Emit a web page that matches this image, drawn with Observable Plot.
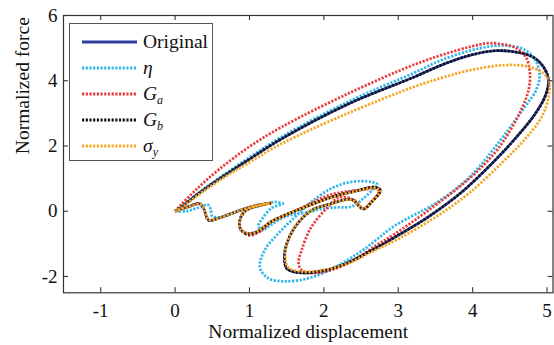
<!DOCTYPE html>
<html><head><meta charset="utf-8">
<script src="https://cdn.jsdelivr.net/npm/d3@7"></script>
<script src="https://cdn.jsdelivr.net/npm/@observablehq/plot@0.6"></script>
<style>
body{margin:0;background:#fff;}
#wrap{position:relative;width:554px;height:345px;font-family:'Liberation Serif';}
#chart svg text{font-family:'Liberation Serif';}
#legend{position:absolute;left:69px;top:23px;width:144px;height:138px;border:1.3px solid #555;box-sizing:border-box;background:#fff;}
.row{position:absolute;left:0;height:26px;}
.row svg{position:absolute;left:11px;top:0;}
.row span{position:absolute;left:73px;top:-12px;font-size:19.5px;line-height:24px;color:#111;white-space:nowrap;font-family:'Liberation Serif';}
.row i{font-style:italic;}
.row sub{font-size:12px;vertical-align:-4px;}
</style></head>
<body><div id="wrap"><div id="chart"></div><div id="legend"></div></div>
<script>
const xTicks = [-1, 0, 1, 2, 3, 4, 5];
const yTicks = [-2, 0, 2, 4, 6];

const origX = [0,0.18,0.33,0.39,0.45,0.6,0.84,1.1,1.29,1.12,0.95,0.87,0.88,0.98,1.12,1.29,1.5,1.74,2.1,2.46,2.68,2.76,2.64,2.53,2.37,2.1,1.83,1.61,1.5,1.47,1.5,1.65,2.0,2.3,2.64,2.95,3.4,3.85,4.3,4.6,4.83,4.97,5.02,4.95,4.8,4.55,4.3,3.98,3.6,3.22,2.32,1.43,1.0,0.6,0.3,0.08,0];
const origY = [0,0.14,0.23,0.05,-0.27,-0.2,0.0,0.18,0.25,0.17,0.02,-0.28,-0.55,-0.68,-0.6,-0.32,-0.1,0.12,0.43,0.64,0.74,0.64,0.28,0.07,0.36,0.23,0.02,-0.49,-1.0,-1.4,-1.75,-1.88,-1.82,-1.6,-1.2,-0.8,-0.18,0.58,1.56,2.3,2.95,3.5,4.0,4.43,4.74,4.89,4.92,4.79,4.5,4.12,3.28,2.22,1.6,1.0,0.52,0.12,0];

const etaX = [0,0.15,0.3,0.44,0.48,0.5,0.62,0.84,1.1,1.34,1.45,1.3,1.18,1.12,1.17,1.3,1.5,1.74,2.0,2.19,2.37,2.55,2.68,2.72,2.64,2.37,2.1,1.83,1.61,1.38,1.2,1.14,1.25,1.47,1.83,2.2,2.55,2.95,3.54,3.98,4.48,4.7,4.85,4.9,4.85,4.7,4.43,4.1,3.6,3.22,2.32,1.43,1.0,0.6,0.3,0.08,0];
const etaY = [0,0.0,0.1,0.2,0.05,-0.15,-0.18,0.0,0.15,0.28,0.23,0.1,-0.2,-0.45,-0.58,-0.4,-0.15,-0.05,0.08,0.12,0.14,0.43,0.72,0.82,0.9,0.9,0.7,0.28,-0.18,-0.7,-1.21,-1.72,-2.05,-2.15,-2.03,-1.65,-1.15,-0.45,0.3,1.1,2.5,3.2,3.7,4.15,4.6,4.95,5.08,5.0,4.65,4.25,3.35,2.28,1.65,1.03,0.53,0.12,0];

const gaX = [0,0.18,0.33,0.39,0.45,0.6,0.84,1.1,1.29,1.12,0.95,0.87,0.89,1.0,1.14,1.3,1.5,1.74,2.05,2.3,2.55,2.7,2.74,2.62,2.53,2.4,2.2,2.05,1.83,1.7,1.66,1.7,1.85,2.1,2.4,2.7,2.95,3.4,3.98,4.3,4.48,4.65,4.75,4.77,4.72,4.6,4.4,4.2,3.98,3.6,3.22,2.32,1.43,1.0,0.6,0.3,0.08,0];
const gaY = [0,0.14,0.23,0.05,-0.27,-0.2,0.0,0.18,0.25,0.17,0.02,-0.28,-0.58,-0.74,-0.62,-0.32,-0.1,0.15,0.48,0.6,0.66,0.7,0.6,0.25,0.07,0.35,0.42,0.12,-0.49,-1.2,-1.6,-1.8,-1.9,-1.8,-1.5,-1.05,-0.7,0.02,1.05,1.8,2.38,3.1,3.7,4.23,4.7,4.98,5.12,5.15,5.05,4.8,4.5,3.6,2.58,1.98,1.3,0.7,0.2,0];

const gbX = [0,0.18,0.33,0.39,0.45,0.6,0.84,1.1,1.29,1.12,0.95,0.87,0.88,0.98,1.12,1.29,1.5,1.74,2.1,2.46,2.68,2.76,2.64,2.53,2.37,2.1,1.83,1.61,1.5,1.47,1.5,1.65,2.0,2.3,2.64,2.95,3.4,3.85,4.3,4.6,4.83,4.97,5.02,4.95,4.8,4.55,4.3,3.98,3.6,3.22,2.32,1.43,1.0,0.6,0.3,0.08,0];
const gbY = [0,0.14,0.23,0.05,-0.27,-0.2,0.0,0.18,0.25,0.17,0.02,-0.28,-0.55,-0.7,-0.62,-0.32,-0.1,0.12,0.43,0.64,0.74,0.64,0.28,0.07,0.36,0.23,0.02,-0.49,-1.0,-1.4,-1.75,-1.88,-1.82,-1.6,-1.2,-0.8,-0.18,0.58,1.56,2.3,2.95,3.5,4.0,4.43,4.74,4.89,4.92,4.79,4.5,4.12,3.28,2.22,1.6,1.0,0.52,0.12,0];

const sigX = [0,0.18,0.33,0.39,0.45,0.6,0.84,1.1,1.29,1.12,0.95,0.87,0.88,0.98,1.12,1.29,1.5,1.74,2.1,2.46,2.68,2.76,2.64,2.53,2.37,2.1,1.83,1.61,1.5,1.48,1.52,1.7,2.0,2.3,2.64,3.0,3.5,3.95,4.4,4.7,4.93,5.02,5.03,4.95,4.75,4.43,3.98,3.6,3.22,2.32,1.43,1.0,0.6,0.3,0.08,0];
const sigY = [0,0.13,0.22,0.05,-0.26,-0.2,0.0,0.18,0.25,0.17,0.02,-0.28,-0.55,-0.68,-0.6,-0.32,-0.1,0.12,0.42,0.63,0.72,0.62,0.28,0.08,0.35,0.22,0.02,-0.49,-1.0,-1.4,-1.72,-1.85,-1.8,-1.62,-1.25,-0.85,-0.18,0.55,1.5,2.2,2.9,3.5,3.95,4.23,4.43,4.48,4.33,4.1,3.82,3.0,2.07,1.5,0.95,0.48,0.1,0];

const series = [
  {key: "Original", label: "Original", xs: origX, ys: origY, color: "#2b3d9c", dash: null, w: 2.6},
  {key: "eta", label: "<i>η</i>", xs: etaX, ys: etaY, color: "#2fb6ea", dash: "2.2,1.5", w: 2.7},
  {key: "Ga", label: "<i>G</i><sub><i>a</i></sub>", xs: gaX, ys: gaY, color: "#ec3a3a", dash: "2.2,1.5", w: 2.7},
  {key: "Gb", label: "<i>G</i><sub><i>b</i></sub>", xs: gbX, ys: gbY, color: "#111111", dash: "2.2,1.5", w: 2.7},
  {key: "sy", label: "<i>σ</i><sub><i>y</i></sub>", xs: sigX, ys: sigY, color: "#f6a623", dash: "2.2,1.5", w: 2.7}
];

const rows = series.flatMap(s => s.xs.map((x, i) => ({key: s.key, x, y: s.ys[i]})));

const W = 554, H = 345;
const mL = 63, mR = 1.5, mT = 15, mB = 52.7;
const fw = W - mL - mR, fh = H - mT - mB;
const ink = "#333";
const serif = "Liberation Serif";

const chart = Plot.plot({
  width: W, height: H,
  marginLeft: mL, marginRight: mR, marginTop: mT, marginBottom: mB,
  style: {fontFamily: "'Liberation Serif'", background: "#fff", color: "#111"},
  x: {domain: [-1.5, 5.08]},
  y: {domain: [-2.5, 6]},
  marks: [
    ...series.map(s => Plot.line(rows.filter(r => r.key === s.key), {
      x: "x", y: "y", stroke: s.color, strokeWidth: s.w,
      strokeDasharray: s.dash, strokeLinecap: "butt", strokeLinejoin: "miter",
      curve: "catmull-rom"
    })),
    Plot.frame({stroke: ink, strokeWidth: 1.2}),
    Plot.tickX(xTicks, {x: d => d, insetTop: fh - 5, stroke: ink, strokeWidth: 1.1}),
    Plot.tickX(xTicks, {x: d => d, insetBottom: fh - 5, stroke: ink, strokeWidth: 1.1}),
    Plot.tickY(yTicks, {y: d => d, insetRight: fw - 5, stroke: ink, strokeWidth: 1.1}),
    Plot.tickY(yTicks, {y: d => d, insetLeft: fw - 5, stroke: ink, strokeWidth: 1.1}),
    Plot.axisX(xTicks, {tickSize: 0, tickPadding: 11, fontSize: 19, fontFamily: serif, label: null, tickFormat: d => d < 0 ? "-" + Math.abs(d) : String(d)}),
    Plot.axisY(yTicks, {tickSize: 0, tickPadding: 6, fontSize: 19, fontFamily: serif, label: null, tickFormat: d => d < 0 ? "-" + Math.abs(d) : String(d)}),
    Plot.text(["Normalized displacement"], {frameAnchor: "bottom", dy: 38.5, fontSize: 19.5, fontFamily: serif, lineAnchor: "middle", fill: "#111"}),
    Plot.text(["Normalized force"], {frameAnchor: "left", dx: -41, rotate: -90, fontSize: 19.5, fontFamily: serif, lineAnchor: "middle", fill: "#111"})
  ]
});
document.getElementById("chart").appendChild(chart);

const legend = document.getElementById("legend");
const rowTops = [17.7, 43.7, 69.7, 95.7, 121.7];
series.forEach((s, i) => {
  const row = document.createElement("div");
  row.className = "row";
  row.style.top = rowTops[i] + "px";
  const dash = s.dash ? `stroke-dasharray="${s.dash}"` : "";
  row.innerHTML = `<svg width="58" height="6" style="top:-3px"><line x1="1" y1="3" x2="56" y2="3" stroke="${s.color}" stroke-width="${s.dash ? 3 : 3.2}" ${dash}/></svg><span>${s.label}</span>`;
  legend.appendChild(row);
});
</script>
</body></html>
